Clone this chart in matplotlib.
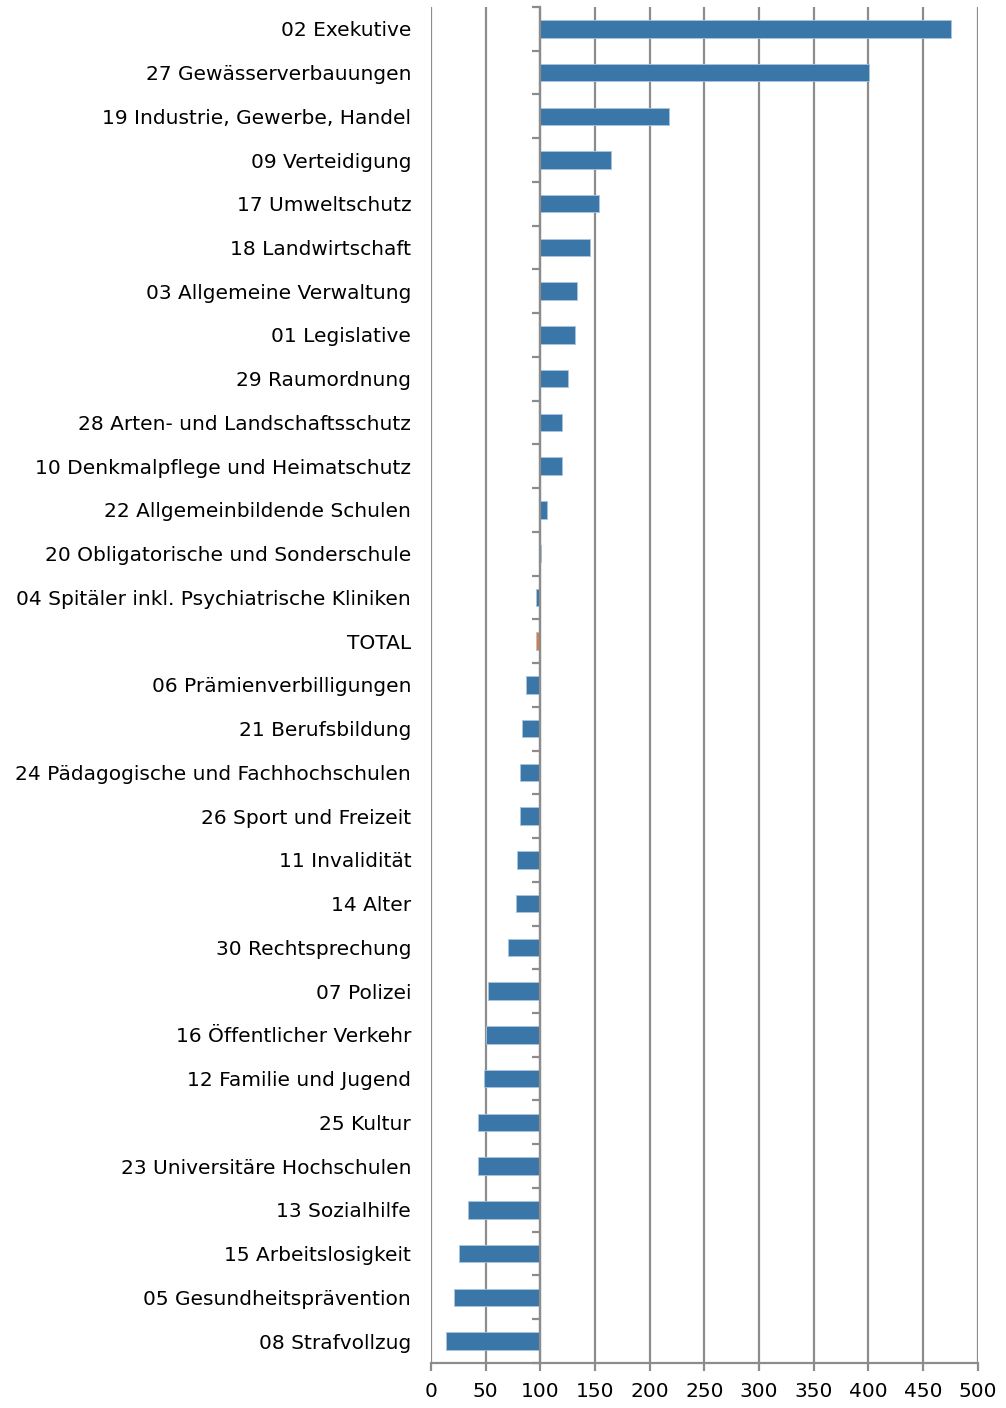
import matplotlib.pyplot as plt
import numpy as np

plt.rcParams['font.family'] = ['DejaVu Sans']

# Kategorien (von oben nach unten) und Werte
labels = ['02 Exekutive', '27 Gewässerverbauungen', '19 Industrie, Gewerbe, Handel',
          '09 Verteidigung', '17 Umweltschutz', '18 Landwirtschaft',
          '03 Allgemeine Verwaltung', '01 Legislative', '29 Raumordnung',
          '28 Arten- und Landschaftsschutz', '10 Denkmalpflege und Heimatschutz',
          '22 Allgemeinbildende Schulen', '20 Obligatorische und Sonderschule',
          '04 Spitäler inkl. Psychiatrische Kliniken', 'TOTAL',
          '06 Prämienverbilligungen', '21 Berufsbildung',
          '24 Pädagogische und Fachhochschulen', '26 Sport und Freizeit',
          '11 Invalidität', '14 Alter', '30 Rechtsprechung', '07 Polizei',
          '16 Öffentlicher Verkehr', '12 Familie und Jugend', '25 Kultur',
          '23 Universitäre Hochschulen', '13 Sozialhilfe', '15 Arbeitslosigkeit',
          '05 Gesundheitsprävention', '08 Strafvollzug']
values = [475.5, 400.5, 218, 165, 154, 145, 134, 132, 125, 119.5, 119.5, 106.5,
          100.3, 95.7, 96, 86.6, 83, 81, 81, 79, 77.5, 70, 52, 50, 48.5, 42.7,
          42.7, 33.5, 26, 20.7, 13.4]
base = 100
xticks = np.arange(0, 501, 50)

blue = '#3A76A8'
orange = '#E07B39'
grid = '#8C8C8C'

fig = plt.figure(figsize=(10.06, 14.08), dpi=100)
ax = fig.add_axes([0.4284, 0.0320, 0.5434, 0.9631])

y = np.arange(len(labels))
colors = [orange if l == 'TOTAL' else blue for l in labels]
vals = np.array(values)
ax.barh(y, vals - base, left=base, height=0.4, color=colors,
        edgecolor='#A9C4DE', linewidth=0.6, zorder=3)

ax.set_xlim(0, 500)
ax.set_ylim(len(labels) - 0.5, -0.5)
ax.set_xticks(xticks)
ax.set_xticklabels([str(t) for t in xticks], fontsize=14.5)
ax.grid(axis='x', color=grid, linewidth=1.6, zorder=0)
ax.set_axisbelow(True)

for s in ['top', 'right']:
    ax.spines[s].set_visible(False)
ax.spines['bottom'].set_color(grid)
ax.spines['bottom'].set_linewidth(1.6)
ax.spines['left'].set_position(('data', base))
ax.spines['left'].set_color(grid)
ax.spines['left'].set_linewidth(1.6)
ax.spines['left'].set_zorder(4)

ax.tick_params(axis='x', length=6, width=1.6, color=grid, pad=8)
ax.set_yticks(y)
ax.set_yticklabels(labels, fontsize=14.5)
ax.tick_params(axis='y', which='major', length=0, pad=93)
ax.set_yticks(np.arange(-0.5, len(labels), 1), minor=True)
ax.tick_params(axis='y', which='minor', length=6, width=1.6, color=grid)

fig.savefig('out.png', dpi=100)
